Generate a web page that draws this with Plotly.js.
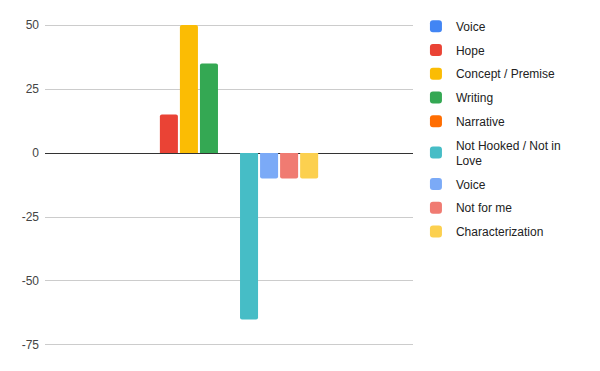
<!DOCTYPE html>
<html><head><meta charset="utf-8">
<script src="https://cdn.plot.ly/plotly-3.0.1.min.js"></script>
<style>html,body{margin:0;padding:0;background:#fff}#chart{width:600px;height:371px}</style>
</head><body><div id="chart"></div>
<script>
const category = [0];
const seriesNames = ["Voice", "Hope", "Concept / Premise", "Writing", "Narrative", "Not Hooked / Not in<br>Love", "Voice", "Not for me", "Characterization"];
const seriesValues = [0, 15, 50, 35, 0, -65, -10, -10, -10];
const seriesColors = ["#4285F4", "#EA4335", "#FBBC04", "#34A853", "#FF6D01", "#46BDC6", "#7BAAF7", "#F07B72", "#FCD04F"];
const yTicks = [-75, -50, -25, 0, 25, 50];

const traces = seriesNames.map((n, i) => ({
  type: 'bar', x: category, y: [seriesValues[i]], name: n,
  legendgroup: 'g' + i,
  marker: {color: seriesColors[i], line: {width: 0}},
  hoverinfo: 'none'
}));

const layout = {
  width: 600, height: 371,
  margin: {l: 45, r: 187, t: 24, b: 25, pad: 0, autoexpand: false},
  paper_bgcolor: '#fff', plot_bgcolor: '#fff',
  font: {family: 'Arial, "Liberation Sans", sans-serif', size: 12, color: '#222'},
  barmode: 'group', bargap: 0.51, bargroupgap: 0.1, barcornerradius: 2,
  showlegend: true,
  legend: {x: 1.008, xanchor: 'left', y: 1.038, yanchor: 'top', tracegroupgap: 4.75, maxheight: 360,
           font: {size: 12, color: '#222'}, bgcolor: 'rgba(0,0,0,0)'},
  xaxis: {range: [-0.5, 0.5], showticklabels: false, showgrid: false, zeroline: false, showline: false, ticks: '', fixedrange: true},
  yaxis: {range: [-75.4, 50.4], tickvals: yTicks, ticktext: yTicks.map(String), showgrid: true, gridcolor: '#cccccc', gridwidth: 1,
          zeroline: true, zerolinecolor: '#333333', zerolinewidth: 1, showline: false, ticks: '',
          tickfont: {size: 12, color: '#444'}, ticklabelstandoff: 5}
};
Plotly.newPlot('chart', traces, layout, {displayModeBar: false, staticPlot: true});
</script></body></html>
